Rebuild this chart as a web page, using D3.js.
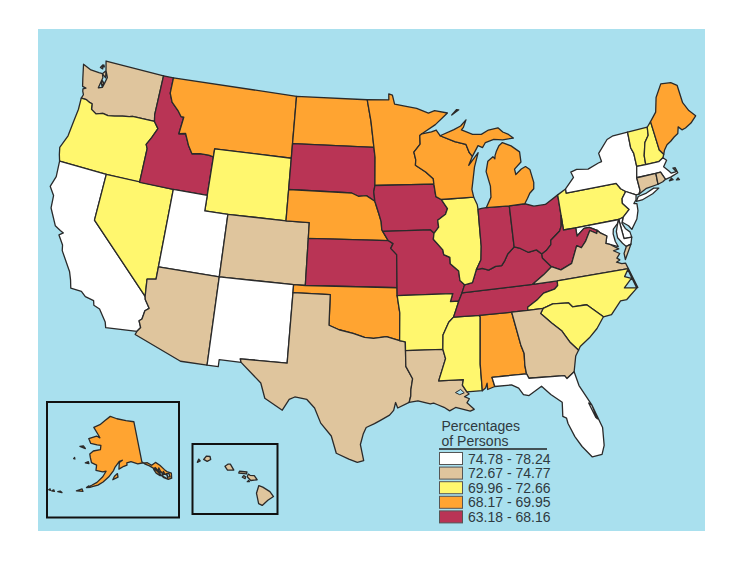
<!DOCTYPE html>
<html lang="en">
<head>
<meta charset="utf-8">
<title>Percentages of Persons by State</title>
<script src="https://cdn.jsdelivr.net/npm/d3@7"></script>
<style>
body { margin: 0; background: #fff; }
text { font-family: "Liberation Sans", Arial, sans-serif; fill: #2f3a40; }
</style>
</head>
<body>
<script>
// legend classes
var classLabels = ["74.78 - 78.24", "72.67 - 74.77", "69.96 - 72.66", "68.17 - 69.95", "63.18 - 68.16"];
var classColors = ["#ffffff", "#dfc59d", "#fff76e", "#ffa431", "#b93455"];

// state -> class
var stateCodes = ["WA","OR","CA","NV","ID","MT","WY","UT","CO","AZ","NM","ND","SD","NE","KS","OK","TX","MN","IA","MO","AR","LA","MS","AL","TN","KY","IL","IN","OH","WI","MIL","MIU","PA","NY","LI","NJ","DE","MD","MDE","WV","VA","VAE","NC","SC","GA","FL","VT","NH","ME","MA","CT","RI","AK","HI"];
var stateClass = [1,2,0,2,4,3,2,0,1,1,0,3,4,3,4,3,1,3,4,4,2,1,2,3,4,4,2,4,4,3,3,3,2,0,0,0,0,0,0,4,1,1,2,2,1,0,2,2,3,0,1,1,3,1];

// outlines in lon/lat
var WA = [[-124.0,46.25],[-123.5,46.25],[-123.2,46.15],[-122.9,46.1],[-122.8,45.75],[-122.3,45.55],[-121.7,45.7],[-121.2,45.65],[-120.6,45.73],[-119.9,45.85],[-119.3,45.93],[-119.0,46.0],[-116.92,46.0],[-117.04,46.42],[-117.03,49.0],[-122.75,49.0],[-122.5,48.4],[-122.2,48.0],[-122.3,47.6],[-122.4,47.3],[-122.75,47.2],[-122.6,47.9],[-122.75,48.15],[-123.1,48.15],[-123.9,48.17],[-124.73,48.38],[-124.4,47.5],[-124.2,47.0],[-123.85,46.95],[-124.1,46.85],[-124.05,46.7],[-123.9,46.5]];
var OR = [[-124.0,46.25],[-123.5,46.25],[-123.2,46.15],[-122.9,46.1],[-122.8,45.75],[-122.3,45.55],[-121.7,45.7],[-121.2,45.65],[-120.6,45.73],[-119.9,45.85],[-119.3,45.93],[-119.0,46.0],[-116.92,46.0],[-116.47,45.6],[-116.85,44.95],[-117.2,44.45],[-117.03,44.2],[-117.03,42.0],[-120,42],[-124.21,42],[-124.4,42.4],[-124.55,42.84],[-124.15,43.7],[-124.05,44.7],[-123.95,45.5]];
var CA = [[-124.21,42],[-120,42],[-120,39],[-114.63,35.0],[-114.57,34.8],[-114.14,34.3],[-114.43,34.1],[-114.53,33.55],[-114.72,33.4],[-114.5,33.0],[-114.72,32.72],[-117.12,32.53],[-117.25,32.87],[-117.9,33.6],[-118.4,33.75],[-118.5,34.03],[-119.2,34.15],[-119.6,34.42],[-120.47,34.45],[-120.65,34.95],[-120.9,35.45],[-121.9,36.6],[-122.0,36.95],[-122.5,37.5],[-122.2,37.7],[-122.5,37.8],[-123.0,38.0],[-123.75,39.0],[-123.85,39.8],[-124.35,40.3],[-124.1,41.0]];
var NV = [[-120,42],[-114.04,42],[-114.04,36.2],[-114.75,36.1],[-114.63,35.0],[-120,39]];
var ID = [[-117.03,49],[-116.05,49],[-116.05,48.0],[-115.7,47.45],[-115.0,47.0],[-114.6,46.65],[-114.35,46.65],[-114.5,45.55],[-113.9,45.65],[-113.45,44.95],[-113.0,44.45],[-112.3,44.55],[-111.5,44.55],[-111.05,44.48],[-111.05,42],[-114.04,42],[-117.03,42],[-117.03,44.2],[-117.2,44.45],[-116.85,44.95],[-116.47,45.6],[-116.92,46],[-117.04,46.42]];
var MT = [[-116.05,49],[-104.05,49],[-104.05,45.94],[-104.05,45],[-111.05,45],[-111.05,44.48],[-111.5,44.55],[-112.3,44.55],[-113.0,44.45],[-113.45,44.95],[-113.9,45.65],[-114.5,45.55],[-114.35,46.65],[-114.6,46.65],[-115.0,47.0],[-115.7,47.45],[-116.05,48.0]];
var WY = [[-111.05,45],[-104.05,45],[-104.05,43],[-104.05,41],[-109.05,41],[-111.05,41],[-111.05,42],[-111.05,44.48]];
var UT = [[-114.04,42],[-111.05,42],[-111.05,41],[-109.05,41],[-109.05,37],[-114.04,37]];
var CO = [[-109.05,41],[-104.05,41],[-102.05,41],[-102.05,40],[-102.05,37],[-103,37],[-109.05,37]];
var AZ = [[-114.04,37],[-109.05,37],[-109.05,31.33],[-111.07,31.33],[-114.81,32.5],[-114.72,32.72],[-114.5,33.0],[-114.72,33.4],[-114.53,33.55],[-114.43,34.1],[-114.14,34.3],[-114.57,34.8],[-114.63,35],[-114.75,36.1],[-114.04,36.2]];
var NM = [[-109.05,37],[-103,37],[-103,36.5],[-103.05,32],[-106.62,32],[-106.53,31.78],[-108.2,31.78],[-108.2,31.33],[-109.05,31.33]];
var ND = [[-104.05,49],[-97.23,49],[-96.85,47.6],[-96.56,45.94],[-104.05,45.94]];
var SD = [[-104.05,45.94],[-96.56,45.94],[-96.45,45.3],[-96.45,43.5],[-96.55,43.1],[-96.45,42.5],[-97.2,42.85],[-97.9,42.8],[-98.5,43.0],[-104.05,43]];
var NE = [[-104.05,43],[-98.5,43],[-97.9,42.8],[-97.2,42.85],[-96.45,42.5],[-96.1,41.7],[-95.9,41.2],[-95.85,40.7],[-95.77,40.58],[-95.31,40.0],[-102.05,40],[-102.05,41],[-104.05,41]];
var KS = [[-102.05,40],[-95.31,40],[-94.9,39.8],[-95.1,39.5],[-94.61,39.1],[-94.62,37],[-102.05,37]];
var OK = [[-103,37],[-102.05,37],[-94.62,37],[-94.62,36.5],[-94.43,35.4],[-94.48,33.64],[-95.5,33.9],[-96.5,33.8],[-97.2,33.85],[-98.1,34.1],[-99.2,34.3],[-100,34.56],[-100,36.5],[-103,36.5]];
var TX = [[-103,36.5],[-100,36.5],[-100,34.56],[-99.2,34.3],[-98.1,34.1],[-97.2,33.85],[-96.5,33.8],[-95.5,33.9],[-94.48,33.64],[-94.04,33.55],[-94.04,33.0],[-94.04,32],[-93.55,31.2],[-93.7,30.5],[-93.72,30.1],[-93.85,29.7],[-94.7,29.35],[-94.85,29.7],[-95.0,29.2],[-95.3,28.9],[-96.0,28.55],[-96.4,28.35],[-97.0,28.1],[-97.2,27.7],[-97.4,27.0],[-97.15,25.96],[-97.6,25.85],[-98.2,26.05],[-99.1,26.4],[-99.5,27.5],[-100.3,28.3],[-100.8,29.25],[-101.4,29.77],[-102.3,29.88],[-102.7,29.7],[-103.15,28.98],[-104.5,29.65],[-104.9,30.6],[-106.53,31.78],[-106.62,32],[-103.05,32]];
var MN = [[-97.23,49],[-95.15,49],[-95.15,49.38],[-94.8,49.3],[-94.6,48.72],[-93.5,48.55],[-92.5,48.4],[-91.4,48.07],[-90.8,48.2],[-89.6,48.0],[-90.8,47.3],[-92.1,46.75],[-92.3,46.65],[-92.3,46.1],[-92.9,45.6],[-92.75,45.1],[-92.8,44.75],[-91.9,44.3],[-91.25,43.85],[-91.22,43.5],[-96.45,43.5],[-96.45,45.3],[-96.56,45.94],[-96.85,47.6]];
var IA = [[-96.45,43.5],[-91.22,43.5],[-91.1,42.7],[-90.65,42.5],[-90.15,41.9],[-90.35,41.55],[-91.05,41.2],[-91.0,40.75],[-91.42,40.38],[-91.73,40.61],[-95.77,40.58],[-95.85,40.7],[-95.9,41.2],[-96.1,41.7],[-96.45,42.5],[-96.55,43.1]];
var MO = [[-95.77,40.58],[-91.73,40.61],[-91.42,40.38],[-91.5,40.0],[-90.75,39.3],[-90.7,39.0],[-90.2,38.8],[-90.2,38.4],[-89.55,37.9],[-89.5,37.3],[-89.15,37.0],[-89.4,36.5],[-89.7,36.0],[-90.37,36.0],[-90.15,36.5],[-94.62,36.5],[-94.62,37],[-94.61,39.1],[-95.1,39.5],[-94.9,39.8],[-95.31,40]];
var AR = [[-94.62,36.5],[-90.15,36.5],[-90.37,36],[-89.7,36],[-89.95,35.5],[-90.2,35.0],[-90.6,34.7],[-91.1,33.9],[-91.17,33.0],[-94.04,33.0],[-94.04,33.55],[-94.48,33.64],[-94.43,35.4]];
var LA = [[-94.04,33],[-91.17,33],[-91.0,32.4],[-91.6,31.0],[-89.75,31.0],[-89.85,30.65],[-89.55,30.2],[-89.4,30.05],[-89.75,29.9],[-89.4,29.75],[-89.6,29.5],[-89.1,29.05],[-89.4,28.95],[-90.1,29.15],[-90.45,29.25],[-90.9,29.05],[-91.3,29.3],[-91.8,29.5],[-92.05,29.6],[-92.3,29.55],[-93.2,29.77],[-93.85,29.7],[-93.72,30.1],[-93.7,30.5],[-93.55,31.2],[-94.04,32]];
var MS = [[-90.2,35],[-88.2,35],[-88.1,34.9],[-88.4,31.9],[-88.4,30.2],[-89.55,30.2],[-89.85,30.65],[-89.75,31],[-91.6,31],[-91,32.4],[-91.17,33],[-91.1,33.9],[-90.6,34.7]];
var AL = [[-88.2,35],[-85.6,35],[-85.18,32.87],[-85.0,32.3],[-85.05,31.55],[-85.0,31.0],[-87.6,31.0],[-87.45,30.4],[-88.0,30.25],[-88.0,30.65],[-88.15,30.35],[-88.4,30.2],[-88.4,31.9],[-88.1,34.9]];
var TN = [[-90.2,35],[-89.95,35.5],[-89.7,36],[-89.4,36.5],[-83.68,36.6],[-81.68,36.59],[-81.7,36.3],[-82,36.1],[-82.9,35.95],[-83.5,35.57],[-84.3,35.2],[-84.32,34.99],[-85.6,35],[-88.2,35]];
var KY = [[-89.4,36.5],[-89.15,37],[-88.5,37.1],[-88.1,37.9],[-87.6,37.95],[-87.1,37.8],[-86.5,38],[-86.0,38.0],[-85.7,38.3],[-85.4,38.7],[-84.8,39.1],[-84.3,38.95],[-83.7,38.65],[-83.0,38.73],[-82.6,38.42],[-82.6,38.17],[-81.97,37.54],[-82.7,37.1],[-83.68,36.6]];
var IL = [[-91.42,40.38],[-91.0,40.75],[-91.05,41.2],[-90.35,41.55],[-90.15,41.9],[-90.65,42.5],[-87.8,42.5],[-87.55,42.0],[-87.52,41.7],[-87.53,39.35],[-87.65,38.5],[-88.1,37.9],[-88.5,37.1],[-89.15,37],[-89.5,37.3],[-89.55,37.9],[-90.2,38.4],[-90.2,38.8],[-90.7,39],[-90.75,39.3],[-91.5,40]];
var IN = [[-87.52,41.7],[-87.2,41.75],[-86.8,41.76],[-84.8,41.72],[-84.8,39.1],[-85.4,38.7],[-85.7,38.3],[-86,38],[-86.5,38],[-87.1,37.8],[-87.6,37.95],[-88.1,37.9],[-87.65,38.5],[-87.53,39.35]];
var OH = [[-84.8,41.72],[-83.45,41.73],[-82.7,41.5],[-81.7,41.5],[-80.52,41.98],[-80.52,40.64],[-80.65,40.0],[-80.85,39.7],[-81.7,39.2],[-81.75,38.93],[-82.2,38.6],[-82.6,38.42],[-83,38.73],[-83.7,38.65],[-84.3,38.95],[-84.8,39.1]];
var MIL = [[-86.8,41.76],[-84.8,41.72],[-83.45,41.73],[-83.15,42.05],[-82.9,42.35],[-82.5,42.6],[-82.42,43.0],[-82.6,43.85],[-82.95,44.07],[-83.35,43.95],[-83.9,43.65],[-83.95,44.0],[-83.3,44.4],[-83.3,45.05],[-84.0,45.5],[-84.75,45.78],[-85.1,45.6],[-85.4,45.25],[-85.55,45.0],[-85.6,44.8],[-85.75,44.95],[-86.25,44.7],[-86.5,44.05],[-86.25,43.1],[-86.3,42.4]];
var MIU = [[-90.42,46.57],[-89.1,46.9],[-88.45,47.1],[-87.9,47.47],[-88.2,47.0],[-88.4,46.85],[-87.4,46.5],[-86.6,46.45],[-85.9,46.68],[-85.0,46.75],[-84.6,46.45],[-84.1,46.25],[-83.7,45.98],[-84.7,45.95],[-85.5,46.05],[-86.3,45.9],[-86.6,45.6],[-87.0,45.75],[-87.6,45.1],[-87.85,45.35],[-88.1,45.9],[-89.1,46.13]];
var IsleRoyale = [[-89.2,47.85],[-88.5,48.15],[-88.7,48.18]];
var WI = [[-92.1,46.75],[-91.2,46.85],[-90.75,46.95],[-90.42,46.57],[-89.1,46.13],[-88.1,45.9],[-87.85,45.35],[-87.6,45.1],[-88.0,44.55],[-87.05,45.3],[-87.5,44.4],[-87.7,43.7],[-87.9,43.0],[-87.8,42.5],[-90.65,42.5],[-91.1,42.7],[-91.22,43.5],[-91.25,43.85],[-91.9,44.3],[-92.8,44.75],[-92.75,45.1],[-92.9,45.6],[-92.3,46.1],[-92.3,46.65]];
var PA = [[-80.52,41.98],[-79.76,42.27],[-79.76,42.0],[-75.35,42.0],[-75.07,41.6],[-74.7,41.36],[-75.13,40.98],[-75.2,40.68],[-74.75,40.2],[-75.4,39.8],[-75.79,39.72],[-79.48,39.72],[-80.52,39.72],[-80.52,40.64]];
var NY = [[-79.76,42.27],[-78.9,42.9],[-79.05,43.27],[-78.5,43.37],[-77.5,43.25],[-76.5,43.5],[-76.2,43.55],[-76.3,44.1],[-75.3,44.85],[-74.7,45.0],[-73.34,45.01],[-73.4,44.0],[-73.25,43.6],[-73.27,42.75],[-73.5,42.05],[-73.48,41.2],[-73.65,41.0],[-73.9,41.0],[-74.7,41.36],[-75.07,41.6],[-75.35,42],[-79.76,42]];
var LI = [[-74.0,40.6],[-73.75,40.87],[-73.0,40.96],[-72.3,41.15],[-71.87,41.07],[-72.5,40.82],[-73.5,40.6]];
var NJ = [[-73.9,41.0],[-74.7,41.36],[-75.13,40.98],[-75.2,40.68],[-74.75,40.2],[-75.4,39.8],[-75.55,39.5],[-75.1,39.2],[-74.9,38.93],[-74.3,39.5],[-74.05,40.0],[-74.0,40.45],[-74.25,40.5],[-74.0,40.7]];
var DE = [[-75.79,39.72],[-75.4,39.8],[-75.6,39.45],[-75.4,39.05],[-75.1,38.8],[-75.05,38.45],[-75.7,38.46]];
var MD = [[-79.48,39.72],[-75.79,39.72],[-75.95,39.5],[-76.4,39.2],[-76.5,38.9],[-76.45,38.4],[-76.3,38.05],[-76.95,38.3],[-77.25,38.4],[-77.05,38.85],[-77.5,39.1],[-77.75,39.32],[-78.35,39.6],[-78.8,39.6],[-79.48,39.2]];
var MDE = [[-75.79,39.72],[-75.7,38.46],[-75.05,38.45],[-75.24,38.03],[-75.65,37.95],[-75.9,38.2],[-76.2,38.6],[-76.2,39.0],[-76.0,39.4]];
var WV = [[-80.52,40.64],[-80.52,39.72],[-79.48,39.72],[-79.48,39.2],[-78.8,39.6],[-78.35,39.6],[-77.75,39.32],[-77.83,39.13],[-78.35,39.4],[-78.87,38.77],[-79.3,38.42],[-79.65,38.6],[-80.3,37.55],[-81.25,37.25],[-81.97,37.54],[-82.6,38.17],[-82.6,38.42],[-82.2,38.6],[-81.75,38.93],[-81.7,39.2],[-80.85,39.7],[-80.65,40.0]];
var VA = [[-83.68,36.6],[-82.7,37.1],[-81.97,37.54],[-81.25,37.25],[-80.3,37.55],[-79.65,38.6],[-79.3,38.42],[-78.87,38.77],[-78.35,39.4],[-77.83,39.13],[-77.75,39.32],[-77.5,39.1],[-77.05,38.85],[-77.25,38.4],[-76.95,38.3],[-76.3,37.9],[-76.75,37.85],[-76.3,37.6],[-76.6,37.35],[-76.4,37.2],[-76.7,37.1],[-76.3,36.95],[-76.0,36.93],[-75.87,36.55],[-81.68,36.59]];
var VAE = [[-75.65,37.95],[-75.24,38.03],[-75.95,37.15],[-75.95,37.55]];
var NC = [[-84.32,34.99],[-84.3,35.2],[-83.5,35.57],[-82.9,35.95],[-82,36.1],[-81.7,36.3],[-81.68,36.59],[-75.87,36.55],[-76.3,36.1],[-75.8,35.9],[-76.5,35.4],[-75.5,35.25],[-76.5,34.65],[-77.0,34.65],[-77.9,33.9],[-78.55,33.86],[-79.67,34.8],[-80.8,34.82],[-81.05,35.1],[-82.3,35.2],[-83.1,35.0]];
var OuterBanks = [[-75.87,36.55],[-75.45,35.25],[-75.55,35.25],[-75.95,36.55]];
var SC = [[-83.1,35],[-82.3,35.2],[-81.05,35.1],[-80.8,34.82],[-79.67,34.8],[-78.55,33.86],[-79.2,33.2],[-79.9,32.7],[-80.7,32.25],[-80.87,32.03],[-81.4,32.6],[-81.9,33.4],[-82.6,34.0],[-83.35,34.7]];
var GA = [[-85.6,35],[-84.32,34.99],[-83.1,35],[-83.35,34.7],[-82.6,34.0],[-81.9,33.4],[-81.4,32.6],[-80.87,32.03],[-81.15,31.7],[-81.45,30.72],[-82.05,30.36],[-82.2,30.57],[-84.86,30.7],[-85,31],[-85.05,31.55],[-85,32.3],[-85.18,32.87]];
var FL = [[-87.6,31],[-85,31],[-84.86,30.7],[-82.2,30.57],[-82.05,30.36],[-81.45,30.72],[-81.25,29.8],[-80.55,28.45],[-80.05,26.9],[-80.15,25.75],[-80.4,25.2],[-81.1,25.13],[-81.7,25.9],[-82.1,26.6],[-82.45,27.5],[-82.5,27.85],[-82.75,28.0],[-82.65,28.9],[-83.4,29.5],[-84.0,30.1],[-85.0,29.6],[-85.4,29.7],[-85.7,30.15],[-86.2,30.4],[-87.45,30.4]];
var IndianRiver = [[-80.75,28.6],[-80.4,27.6],[-80.3,27.5],[-80.55,28.45]];
var VT = [[-73.34,45.01],[-71.5,45.01],[-71.6,44.5],[-72.05,44.1],[-72.4,43.3],[-72.46,42.73],[-73.27,42.75],[-73.25,43.6],[-73.4,44]];
var NH = [[-71.5,45.01],[-71.08,45.3],[-70.98,43.4],[-70.7,43.07],[-70.85,42.87],[-71.3,42.7],[-72.46,42.73],[-72.4,43.3],[-72.05,44.1],[-71.6,44.5]];
var ME = [[-71.08,45.3],[-70.4,45.8],[-70.0,46.7],[-69.23,47.46],[-68.3,47.35],[-67.8,47.07],[-67.78,45.9],[-67.45,45.3],[-67.0,44.85],[-67.6,44.5],[-68.2,44.3],[-68.55,44.25],[-68.8,44.5],[-69.0,44.1],[-69.4,43.95],[-69.8,43.75],[-70.2,43.6],[-70.55,43.3],[-70.7,43.07],[-70.98,43.4]];
var MA = [[-73.27,42.75],[-72.46,42.73],[-71.3,42.7],[-70.85,42.87],[-70.6,42.65],[-71.0,42.3],[-70.65,41.95],[-70.5,41.78],[-70.05,41.8],[-70.25,42.07],[-70.05,42.05],[-69.95,41.7],[-70.65,41.55],[-71.12,41.5],[-71.38,42.02],[-71.8,42.02],[-73.5,42.05]];
var CT = [[-73.5,42.05],[-71.8,42.02],[-71.85,41.32],[-72.9,41.25],[-73.65,41.0],[-73.48,41.2]];
var RI = [[-71.8,42.02],[-71.38,42.02],[-71.12,41.5],[-71.4,41.4],[-71.85,41.32]];

// small islands of the lower 48
var Vineyard = [[-70.83,41.35],[-70.5,41.35],[-70.6,41.47]];
var Nantucket = [[-70.23,41.28],[-69.97,41.25],[-70.05,41.38]];
var SanJuan = [[-123.1,48.5],[-122.85,48.45],[-122.95,48.7]];
var Orcas = [[-122.95,48.6],[-122.75,48.6],[-122.85,48.72]];
var Whidbey = [[-122.75,48.15],[-122.35,47.95],[-122.5,48.4]];
var Bainbridge = [[-122.6,47.55],[-122.45,47.35],[-122.4,47.6],[-122.55,47.7]];

// water inside the states
var Pontchartrain = [[-90.4,30.2],[-90.1,30.05],[-89.75,30.15],[-90.0,30.38]];
var lakeRings = [Pontchartrain];

// Alaska, main land and islands
var AKmain = [[-141,69.65],[-141,60.3],[-139.7,59.6],[-138,59],[-136.5,58.2],[-135.5,57.5],[-134.5,56.5],[-133.5,55.5],[-132,54.8],[-130.6,54.8],[-130,55.9],[-131.5,56.6],[-132.2,57.2],[-133.5,58.5],[-135,59.4],[-137,59],[-138.6,59.8],[-139.6,59.9],[-141,60],[-143,60],[-146,60.7],[-148,60.5],[-148,60],[-149.5,59.8],[-151.8,59.2],[-151.5,60.7],[-150,61.2],[-151.5,61],[-153.5,59.7],[-154.2,58.9],[-156.3,57.4],[-158.5,56.2],[-160.5,55.4],[-163,54.8],[-164.5,54.6],[-163,55.2],[-161,56],[-158.8,57.4],[-157.5,58.7],[-159,58.5],[-162,58.7],[-162,59.9],[-164.5,60.3],[-165.5,61.5],[-166,62.2],[-164.5,63],[-161,63.5],[-161,64.5],[-163,64.5],[-166.5,64.6],[-168.1,65.6],[-164,66.5],[-162,66.2],[-163.5,67],[-166.5,68.35],[-163,69.2],[-160,70.3],[-156.6,71.35],[-152,70.8],[-146,70.2]];
var Kodiak = [[-154.5,56.8],[-152.3,57.4],[-152.5,58.2],[-153.8,57.6]];
var StLawrence = [[-171.7,63.4],[-168.7,63.2],[-170,63.7]];
var StMatthew = [[-173,60.3],[-172.4,60.3],[-172.7,60.6]];
var Nunivak = [[-167.3,60],[-165.6,60],[-166,60.4]];
var Unalaska = [[-168.5,53.3],[-166,53.5],[-166.5,54]];
var Unimak = [[-164.9,54.5],[-163.2,54.7],[-164.2,54.95]];
var Atka = [[-175.2,52],[-173.6,52.1],[-174.4,52.3]];
var Adak = [[-177.4,51.7],[-176.4,51.8],[-176.8,52.1]];
var Tanaga = [[-178.6,51.7],[-177.9,51.7],[-178.2,52]];
var Baranof = [[-136,57],[-134.7,56.2],[-134.8,57.4],[-135.8,58.3],[-136.6,58]];
var Admiralty = [[-134.8,57.2],[-134,57],[-134.3,58]];
var Kuiu = [[-134.6,56.3],[-133.6,55.9],[-133.7,56.9],[-134.3,57]];
var Mitkof = [[-133.4,56.3],[-132.6,56.2],[-132.9,56.9]];
var Wales = [[-133.9,56],[-132.2,54.9],[-131.8,55.8],[-133.2,56.4]];
var Revilla = [[-132,55.5],[-131,55.2],[-131,56],[-132,56.2]];

// Hawaii
var Niihau = [[-160.25,21.8],[-160.05,21.9],[-160.15,22.02]];
var Kauai = [[-159.8,22],[-159.55,21.87],[-159.3,22],[-159.35,22.2],[-159.6,22.23]];
var Oahu = [[-158.28,21.55],[-158.1,21.3],[-157.65,21.3],[-157.9,21.7],[-158.05,21.7]];
var Molokai = [[-157.3,21.1],[-156.75,21.05],[-156.72,21.17],[-157.25,21.22]];
var Lanai = [[-157.05,20.82],[-156.85,20.73],[-156.82,20.85],[-156.95,20.93]];
var Kahoolawe = [[-156.7,20.52],[-156.55,20.52],[-156.6,20.6]];
var Maui = [[-156.7,20.85],[-156.45,20.6],[-156.0,20.65],[-156.2,20.92],[-156.5,20.95],[-156.62,21.03]];
var BigIsland = [[-155.9,19.05],[-155.65,18.93],[-155.25,19.27],[-154.85,19.52],[-155.1,19.85],[-155.6,20.15],[-155.88,20.26],[-156.05,19.75]];

var ringsByState = [[WA,Whidbey,SanJuan,Orcas,Bainbridge],[OR],[CA],[NV],[ID],[MT],[WY],[UT],[CO],[AZ],[NM],[ND],[SD],[NE],[KS],[OK],[TX],[MN],[IA],[MO],[AR],[LA],[MS],[AL],[TN],[KY],[IL],[IN],[OH],[WI],[MIL],[MIU,IsleRoyale],[PA],[NY],[LI],[NJ],[DE],[MD],[MDE],[WV],[VA],[VAE],[NC,OuterBanks],[SC],[GA],[FL,IndianRiver],[VT],[NH],[ME],[MA,Vineyard,Nantucket],[CT],[RI],
  [AKmain,Kodiak,StLawrence,StMatthew,Nunivak,Unalaska,Unimak,Atka,Adak,Tanaga,Baranof,Admiralty,Kuiu,Mitkof,Wales,Revilla],
  [Niihau,Kauai,Oahu,Molokai,Lanai,Kahoolawe,Maui,BigIsland]];

var w = 743, h = 561;
var stroke = "#2a2a2a";
var water = "#a9e0ee";

// d3.geo wants clockwise rings, flip the ones that came out inside-out
function closeRing(r) {
  var ring = r.concat([r[0]]);
  if (d3.geoArea({type: "Polygon", coordinates: [ring]}) > 2 * Math.PI) ring = ring.slice().reverse();
  return ring;
}
function toFeature(rings, i) {
  var polys = rings.map(function(r) { return [closeRing(r)]; });
  return {type: "Feature", id: stateCodes[i], properties: {cls: stateClass[i]}, geometry: {type: "MultiPolygon", coordinates: polys}};
}
var features = ringsByState.map(toFeature);

var color = d3.scaleOrdinal().domain(d3.range(classColors.length)).range(classColors);

var svg = d3.select("body").append("svg").attr("width", w).attr("height", h).style("display", "block");

svg.append("rect").attr("x", 38).attr("y", 29).attr("width", 667).attr("height", 502).attr("fill", water);

var lower48 = d3.geoConicEqualArea().parallels([29.5, 45.5]).rotate([96, 0]).center([0, 37.5]).scale(895).translate([380, 280]);
var alaska = d3.geoConicEqualArea().parallels([55, 65]).rotate([154, 0]).center([0, 62]).scale(250).translate([114, 457]);
var hawaii = d3.geoConicEqualArea().parallels([8, 18]).rotate([157, 0]).center([0, 20.5]).scale(860).translate([243, 482]);

function drawStates(list, proj) {
  svg.append("g").selectAll("path")
    .data(list)
    .enter()
    .append("path")
    .attr("d", d3.geoPath(proj))
    .attr("fill", function(d) { return color(d.properties.cls); })
    .attr("stroke", stroke)
    .attr("stroke-width", 1.3)
    .attr("stroke-linejoin", "round");
}
drawStates(features.filter(function(d) { return d.id != "AK" && d.id != "HI"; }), lower48);
drawStates(features.filter(function(d) { return d.id == "AK"; }), alaska);
drawStates(features.filter(function(d) { return d.id == "HI"; }), hawaii);

svg.append("g").selectAll("path")
  .data(lakeRings)
  .enter()
  .append("path")
  .attr("d", function(r) { return d3.geoPath(lower48)({type: "Polygon", coordinates: [closeRing(r)]}); })
  .attr("fill", water)
  .attr("stroke", stroke)
  .attr("stroke-width", 1);

// inset boxes
svg.append("rect").attr("x", 47).attr("y", 402).attr("width", 132).attr("height", 115.5).attr("fill", "none").attr("stroke", "#111").attr("stroke-width", 2);
svg.append("rect").attr("x", 192.5).attr("y", 444).attr("width", 85).attr("height", 70).attr("fill", "none").attr("stroke", "#111").attr("stroke-width", 2);

// legend
var legend = svg.append("g");
legend.append("text").attr("x", 441.5).attr("y", 430.5).attr("font-size", 14).text("Percentages");
legend.append("text").attr("x", 441.5).attr("y", 446).attr("font-size", 14).text("of Persons");
legend.append("line").attr("x1", 439).attr("x2", 547).attr("y1", 449).attr("y2", 449).attr("stroke", "#222").attr("stroke-width", 1.5);

var rowY = d3.scaleBand().domain(classLabels).range([452.5, 525.5]);
legend.selectAll("rect")
  .data(classLabels)
  .enter()
  .append("rect")
  .attr("x", 439.5)
  .attr("y", function(d) { return rowY(d); })
  .attr("width", 23)
  .attr("height", 12)
  .attr("fill", function(d, i) { return classColors[i]; })
  .attr("stroke", "#555")
  .attr("stroke-width", 1);
legend.selectAll("text.row")
  .data(classLabels)
  .enter()
  .append("text")
  .attr("class", "row")
  .attr("x", 468)
  .attr("y", function(d) { return rowY(d) + 11; })
  .attr("font-size", 14)
  .text(function(d) { return d; });
</script>
</body>
</html>
